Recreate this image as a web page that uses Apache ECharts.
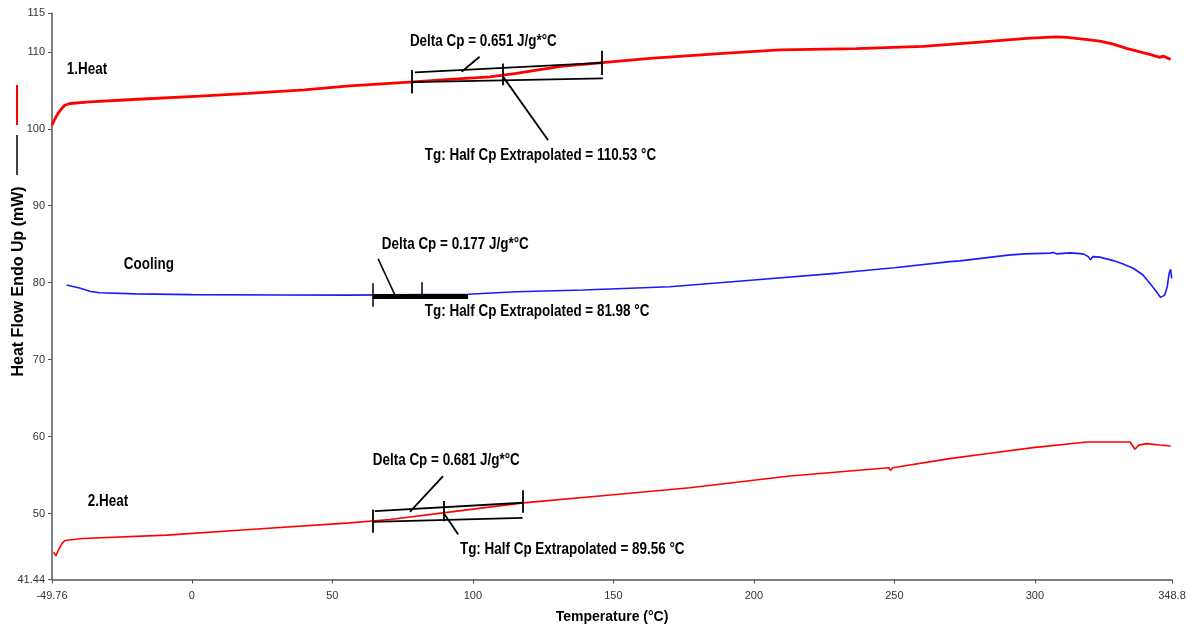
<!DOCTYPE html>
<html>
<head>
<meta charset="utf-8">
<script src="https://cdn.jsdelivr.net/npm/echarts@6/dist/echarts.min.js"></script>
<style>
html,body{margin:0;padding:0;background:#fff;}
#c{width:1188px;height:633px;}
</style>
</head>
<body>
<div id="c"></div>
<script>
// ---- data (Temperature °C, Heat Flow mW) ----
const xTicks = [-49.76, 0, 50, 100, 150, 200, 250, 300, 348.8];
const yTicks = [41.44, 50, 60, 70, 80, 90, 100, 110, 115];

const heat1 = [
  [-49.76,100.45],[-48.7,101.3],[-47.6,102.0],[-46.4,102.6],[-45.2,103.06],[-43.4,103.28],
  [-36.3,103.49],[-20.9,103.8],[2.8,104.23],[20,104.6],[40,105.05],[56.2,105.57],
  [78.8,106.09],[91.8,106.41],[106,106.74],[115.5,107.19],[122.7,107.62],[132.1,108.14],
  [145.2,108.57],[163,109.14],[189.1,109.79],[209.2,110.25],[236.5,110.4],[260.2,110.7],
  [269.7,110.96],[281.6,111.3],[297,111.74],[307.7,111.95],[311.3,111.88],[317.2,111.65],
  [323.1,111.39],[327.9,111.0],[332.6,110.44],[337.4,110.0],[340.9,109.66],[344.5,109.27],
  [345.6,109.44],[346.8,109.27],[348.3,109.01]
];

const cooling = [
  [-44.6,79.7],[-40,79.3],[-36,78.85],[-32.7,78.69],[-20,78.55],[0,78.45],[30,78.4],
  [56,78.39],[98.3,78.49],[115.5,78.83],[139.3,79.05],[170.1,79.48],[200,80.35],[230,81.25],
  [250,81.95],[269.75,82.74],[273.3,82.83],[281.6,83.19],[290.5,83.58],[296.4,83.75],
  [305.3,83.84],[306.5,83.92],[307.7,83.75],[312.5,83.88],[317.2,83.75],[319,83.39],
  [319.8,82.96],[320.6,83.39],[323.1,83.32],[327.9,82.87],[331.4,82.44],[335,81.88],
  [338.5,81.0],[340.9,79.92],[343.3,78.83],[344.7,78.09],[346.2,78.39],[347.1,79.48],
  [347.8,81.23],[348.3,81.75],[348.7,80.57]
];

const heat2 = [
  [-49.2,45.0],[-48.4,44.5],[-47.3,45.4],[-46.2,46.1],[-45.2,46.5],[-38.7,46.77],[-9,47.2],
  [20.6,47.94],[56.2,48.8],[70.5,49.24],[89.4,50.1],[117.9,51.4],[150,52.46],[177.2,53.36],
  [212.8,54.88],[248,55.96],[248.6,55.62],[249.4,55.96],[269.7,57.14],[284,57.84],
  [299.4,58.57],[318.4,59.31],[333.9,59.31],[334.6,59.1],[335.6,58.36],[337,58.9],
  [339.7,59.09],[344.4,58.92],[348.3,58.79]
];

// annotation segments (construction lines drawn by the analysis software)
const heat1Segments = [
  [[78.6,106.06],[146.3,106.54]],
  [[79.4,107.32],[145.9,108.57]],
  [[78.3,107.62],[78.3,104.58]],
  [[110.53,108.49],[110.53,105.66]],
  [[146,110.13],[146,106.97]],
  [[96,107.4],[102.4,109.35]],
  [[110.8,106.74],[126.8,98.5]]
];
const coolingSegments = [
  [[64.3,79.92],[64.3,76.89]],
  [[81.7,80.05],[81.7,77.89]],
  [[66.3,83.1],[72.2,78.45]]
];
const coolingThick = [
  [[64.3,78.23],[98.3,78.23]]
];
const heat2Segments = [
  [[64.3,48.93],[117.7,49.45]],
  [[65.1,50.32],[117.7,51.41]],
  [[64.3,50.55],[64.3,47.5]],
  [[89.7,51.63],[89.7,49.02]],
  [[117.7,53.02],[117.7,50.1]],
  [[77.6,50.23],[89.4,54.88]],
  [[90,49.9],[94.8,47.29]]
];

// text annotations: [x, y, text] (left edge, vertical middle)
const annotations = [
  [-44.5,107.75,'1.Heat'],
  [-24.2,82.31,'Cooling'],
  [-37.0,51.5,'2.Heat'],
  [77.6,111.3,'Delta Cp = 0.651 J/g*°C'],
  [82.9,96.55,'Tg: Half Cp Extrapolated = 110.53 °C'],
  [67.6,84.96,'Delta Cp = 0.177 J/g*°C'],
  [82.9,76.28,'Tg: Half Cp Extrapolated = 81.98 °C'],
  [64.4,56.84,'Delta Cp = 0.681 J/g*°C'],
  [95.4,45.38,'Tg: Half Cp Extrapolated = 89.56 °C']
];

const SANS = "'Liberation Sans', Arial, sans-serif";

const chart = echarts.init(document.getElementById('c'), null, {renderer:'canvas'});

function segSeries(segs, width){
  return {
    type:'lines', coordinateSystem:'cartesian2d', silent:true, z:5,
    lineStyle:{color:'#000', width:width, opacity:1},
    data: segs.map(s => ({coords:s}))
  };
}

chart.setOption({
  animation:false,
  backgroundColor:'#fff',
  grid:{left:52, right:16, top:13.3, bottom:53.5, containLabel:false, outerBoundsMode:'none'},
  xAxis:{
    type:'value', min:-49.76, max:348.8,
    name:'Temperature (°C)', nameLocation:'middle', nameGap:31, nameMoveOverlap:false,
    nameTextStyle:{fontFamily:SANS, fontWeight:'bold', fontSize:14, color:'#000'},
    axisLine:{show:true, onZero:false, lineStyle:{color:'#555', width:1.5}},
    axisTick:{show:true, customValues:xTicks, length:4, inside:false, lineStyle:{color:'#555'}},
    axisLabel:{customValues:xTicks, margin:11, fontFamily:SANS, fontSize:11, color:'#333',
      formatter:v=>String(v)},
    splitLine:{show:false}
  },
  yAxis:{
    type:'value', min:41.44, max:115,
    name:'Heat Flow Endo Up (mW)', nameLocation:'middle', nameGap:25, nameMoveOverlap:false,
    nameTextStyle:{fontFamily:SANS, fontWeight:'bold', fontSize:16, color:'#000', padding:[0,0,0,30]},
    axisLine:{show:true, onZero:false, lineStyle:{color:'#555', width:1.5}},
    axisTick:{show:true, customValues:yTicks, length:4, inside:false, lineStyle:{color:'#555'}},
    axisLabel:{customValues:yTicks, margin:7, fontFamily:SANS, fontSize:11, color:'#333',
      formatter:v=>String(v)},
    splitLine:{show:false}
  },
  series:[
    {name:'1.Heat', type:'line', data:heat1, showSymbol:false, smooth:false, z:3,
      lineStyle:{color:'#ff0000', width:2.8}},
    {name:'Cooling', type:'line', data:cooling, showSymbol:false, smooth:false, z:3,
      lineStyle:{color:'#1a1aff', width:1.6}},
    {name:'2.Heat', type:'line', data:heat2, showSymbol:false, smooth:false, z:3,
      lineStyle:{color:'#ff0000', width:1.6}},
    segSeries(heat1Segments, 1.8),
    segSeries(coolingSegments, 1.5),
    segSeries(coolingThick, 5),
    segSeries(heat2Segments, 1.8)
  ]
});

// narrow bold annotation texts placed at data coordinates
const textEls = annotations.map(a => {
  const p = chart.convertToPixel({gridIndex:0}, [a[0], a[1]]);
  return {
    type:'text', x:p[0], y:p[1], scaleX:0.84, silent:true, z:10,
    style:{text:a[2], x:0, y:0, fill:'#000', fontFamily:SANS, fontWeight:'bold', fontSize:16,
      align:'left', verticalAlign:'middle'}
  };
});

chart.setOption({
  graphic:[
    {type:'line', shape:{x1:17, y1:85, x2:17, y2:125}, style:{stroke:'#ff0000', lineWidth:2}, silent:true},
    {type:'line', shape:{x1:17, y1:135, x2:17, y2:175}, style:{stroke:'#000', lineWidth:1.5}, silent:true}
  ].concat(textEls)
});
</script>
</body>
</html>
